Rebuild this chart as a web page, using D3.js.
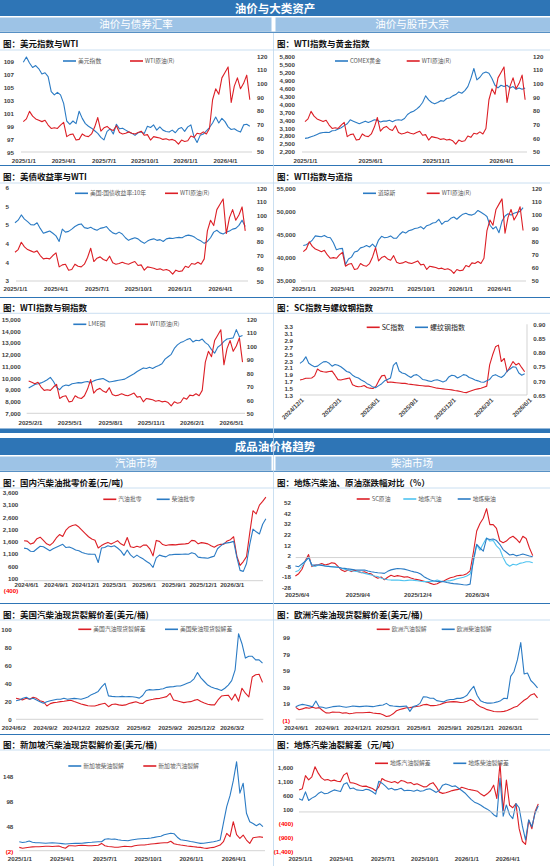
<!DOCTYPE html>
<html lang="zh">
<head>
<meta charset="utf-8">
<title>油价与大类资产</title>
<script src="https://cdn.jsdelivr.net/npm/d3@7"></script>
<style>
  body { margin: 0; background: #fff; }
  svg { display: block; font-family: "Noto Sans CJK SC", "Noto Sans", sans-serif; }
  .ptitle { font-size: 8.5px; font-weight: bold; fill: #111; }
  .tick text { font-family: "Liberation Sans", Arial, sans-serif; font-size: 6.2px; font-weight: bold; fill: #404040; }
  .leg { font-size: 5.8px; fill: #595959; }
  .hdr { fill: #fff; font-weight: bold; text-anchor: middle; }
</style>
</head>
<body>
<svg id="chart" width="550" height="866"></svg>
<script>
// ---- data ----
// weekly, from 2025-01-01
const wtiSpot = [72, 74, 79.5, 76, 74, 73, 72, 73, 69.5, 67,
  67.5, 67, 69.5, 71.5, 61, 62.5, 63, 58.5, 59, 63,
  61.5, 61, 63, 68, 75, 65, 67.5, 68.5, 66.5, 65.5,
  69, 64, 63, 63.5, 64.5, 63.5, 63, 64, 65, 62,
  62.5, 58.5, 61, 60.5, 60, 59, 59.5, 58.5, 59, 58,
  55.5, 58.5, 57.5, 58, 61.5, 60.5, 63.5, 63, 64.5, 63,
  67, 88, 96, 92, 104, 108, 112, 86, 98, 104,
  96, 100, 106, 88];
const dollarIndex = [108.8, 109.6, 108.7, 108, 108.3, 107.8, 107, 107.2, 106.6, 104.3,
  103.8, 104.2, 103.8, 102.5, 99.8, 99.3, 99.8, 99.4, 101.3, 100.2,
  99.4, 99, 98.7, 98.3, 97.9, 97.3, 96.9, 98.2, 98.6, 97.8,
  99.3, 98.6, 98.7, 98.4, 98.1, 97.9, 97.6, 98.0, 98.1, 97.9,
  99.0, 98.8, 99.2, 98.4, 98.9, 98.4, 98.2, 98.1, 98.4, 98,
  98.6, 98.8, 98.2, 98.9, 99.2, 97.4, 96.5, 97.6, 97.8, 98.3,
  98.8, 99.5, 100.4, 99.5, 100.2, 99.7, 98.9, 98.5, 98.6, 98.3,
  98.1, 99.2, 99.3, 99.0];
const comexGold = [2700, 2720, 2760, 2800, 2850, 2900, 2920, 2930, 2920, 2990,
  3000, 3050, 3100, 3180, 3250, 3400, 3350, 3300, 3250, 3300,
  3350, 3300, 3350, 3400, 3380, 3320, 3350, 3350, 3380, 3330,
  3380, 3400, 3380, 3450, 3600, 3680, 3720, 3800, 3900, 4050,
  4300, 4150, 4050, 4000, 4050, 4120, 4100, 4200, 4220, 4300,
  4350, 4450, 4400, 4500, 4650, 4950, 5330, 4900, 5000, 5150,
  5200, 5150, 4950, 4700, 4600, 4700, 4650, 4700, 4600, 4650,
  4550, 4600, 4550, 4600];
const ust10y = [4.55, 4.62, 4.76, 4.65, 4.58, 4.5, 4.49, 4.55, 4.4, 4.27,
  4.3, 4.33, 4.27, 4.2, 4.05, 4.38, 4.3, 4.32, 4.38, 4.45,
  4.5, 4.52, 4.42, 4.4, 4.43, 4.38, 4.35, 4.4, 4.42, 4.45,
  4.35, 4.28, 4.25, 4.3, 4.25, 4.15, 4.08, 4.12, 4.15, 4.12,
  4.05, 4.0, 4.06, 4.1, 4.12, 4.08, 4.1, 4.05, 4.12, 4.14,
  4.13, 4.15, 4.16, 4.15, 4.2, 4.22, 4.2, 4.16, 4.1, 4.06,
  4.0, 4.05, 4.15, 4.3, 4.35, 4.28, 4.25, 4.3, 4.33, 4.38,
  4.4, 4.48, 4.62, 4.45];
const dowJones = [42600, 42800, 43200, 43800, 44700, 44600, 44500, 44800, 44400, 44300,
  43200, 41700, 41900, 42000, 38500, 39700, 40100, 41200, 41400, 42100,
  42300, 42600, 42300, 42900, 42200, 43800, 44600, 44300, 44400, 44700,
  44200, 44200, 45000, 45600, 45300, 45800, 46000, 46300, 46400, 46700,
  46200, 46900, 47100, 47500, 47600, 48300, 47200, 47800, 47900, 48500,
  48800, 48300, 48900, 49400, 49600, 49300, 49200, 49500, 50200, 49800,
  49400, 48900, 47000, 46200, 46700, 45400, 47900, 49000, 49500, 49200,
  49600, 49800, 50000, 50800];
// weekly, from 2025-01-29
const lmeCopper = [9150, 9300, 9450, 9500, 9580, 9700, 9850, 10050, 9700, 9200,
  9000, 9300, 9400, 9350, 9500, 9550, 9600, 9580, 9650, 9700,
  9600, 9750, 9850, 9900, 9950, 9800, 9650, 9700, 9750, 9800,
  9850, 9900, 10050, 10200, 10350, 10550, 10700, 10850, 10800, 10900,
  10800, 10950, 11050, 11200, 11600, 11800, 12000, 12500, 12800, 13000,
  13100, 13250, 13350, 13050, 13200, 13150, 13300, 13000, 12800, 12400,
  12100, 12600, 12800, 13100, 13300, 13350, 13400, 14100, 13500, 13600];
// weekly, from 2024-12-01
const scIndex = [1.74, 1.76, 1.79, 1.79, 1.8, 1.86, 2.06, 2.0, 1.98, 1.97,
  1.99, 2.0, 1.88, 1.75, 1.74, 1.76, 1.78, 1.8, 1.6, 1.56,
  1.54, 1.55, 1.58, 1.52, 1.5, 1.49, 1.55, 1.72, 1.86, 1.88,
  1.67, 1.68, 1.67, 1.66, 1.65, 1.64, 1.64, 1.62, 1.61, 1.6,
  1.59, 1.58, 1.57, 1.56, 1.56, 1.54, 1.52, 1.5, 1.49, 1.48,
  1.47, 1.46, 1.45, 1.43, 1.42, 1.4, 1.38, 1.37, 1.4, 1.43,
  1.46, 1.48, 1.5, 1.53, 1.56, 2.18, 2.47, 2.71, 2.76, 2.28,
  2.37, 1.98, 2.13, 2.28, 2.18, 2.23, 2.1, 1.98];
const rebarIndex = [0.762, 0.77, 0.785, 0.762, 0.755, 0.75, 0.752, 0.76, 0.767, 0.768,
  0.762, 0.752, 0.758, 0.755, 0.75, 0.742, 0.733, 0.73, 0.72, 0.714,
  0.71, 0.703, 0.698, 0.69, 0.685, 0.678, 0.676, 0.683, 0.69, 0.7,
  0.705, 0.71, 0.755, 0.765, 0.735, 0.728, 0.725, 0.718, 0.712, 0.72,
  0.722, 0.715, 0.705, 0.703, 0.7, 0.698, 0.702, 0.704, 0.7, 0.696,
  0.7, 0.714, 0.72, 0.718, 0.71, 0.715, 0.722, 0.72, 0.712, 0.708,
  0.703, 0.7, 0.696, 0.695, 0.7, 0.705, 0.718, 0.722, 0.716, 0.712,
  0.72, 0.735, 0.742, 0.75, 0.748, 0.728, 0.72, 0.725];
// every 10 days, from 2024-05-26
const cnGasolineSpread = [1629, 1610, 1490, 1540, 1710, 1770, 1640, 1500, 1440, 1550,
  1740, 1880, 1800, 2060, 2190, 2250, 2276, 2185, 2050, 1920,
  1790, 1700, 1650, 1330, 1430, 1500, 1560, 1490, 1560, 1630,
  1500, 1430, 1760, 1380, 1353, 1400, 1360, 1450, 1450, 1300,
  1010, 1640, 1600, 1470, 1430, 1460, 1470, 1460, 1480, 1490,
  1500, 1520, 1640, 1620, 1500, 1550, 1530, 1500, 1420, 1360,
  1440, 1480, 1490, 1620, 1670, 1790, 1000, 620, 780, 980,
  1950, 2850, 2720, 3080, 3230, 3400];
const cnDieselSpread = [1326, 1300, 1200, 1190, 1300, 1400, 1380, 1300, 1220, 1300,
  1360, 1420, 1480, 1350, 1370, 1320, 1250, 1216, 1150, 1110,
  1080, 1078, 1078, 740, 1330, 1353, 1422, 1381, 1422, 1330,
  1216, 1030, 1250, 1050, 940, 1040, 950, 880, 780, 700,
  540, 930, 1040, 1000, 970, 1050, 1060, 1078, 1070, 1078,
  1080, 1078, 1140, 1100, 960, 940, 930, 913, 960, 1000,
  1300, 1420, 1519, 1540, 1560, 1600, 950, 420, 380, 700,
  1480, 2100, 1990, 1900, 2300, 2520];
// every 5 days, from 2025-06-02 (%)
const scCrudeChg = [-17.4, -15.2, -11.0, -3.0, 2.8, -8.5, -7.2, -6.8, -5.6, -7.0,
  -6.2, -4.9, -5.5, -8.6, -11.8, -13.2, -11.8, -13.2, -11.9, -13.2,
  -14.2, -13.4, -14.8, -15.4, -17.8, -19.4, -18.3, -20.9, -18.5, -16.7,
  -17.8, -17.0, -17.6, -18.4, -18.1, -19.2, -20.2, -20.8, -21.5, -22.3,
  -23.1, -24.3, -25.4, -24.6, -23.0, -22.0, -20.5, -19.0, -18.3, -17.2,
  -16.8, -16.4, -15.2, -12.5, 5.0, 25.0, 32.0, 37.0, 46.0, 31.0,
  31.0, 27.5, 15.8, 14.0, 15.5, 18.5, 20.0, 17.5, 14.0, 20.0,
  18.0, 9.0, 1.8];
const localGasolineChg = [-13.3, -12.2, -8.2, -3.6, 0.5, -7.6, -8.4, -7.0, -7.0, -8.0,
  -8.3, -8.6, -8.9, -9.2, -10.2, -11.1, -11.8, -12.4, -12.9, -13.3,
  -14.1, -14.9, -15.6, -16.5, -17.4, -17.9, -19.2, -20.2, -20.9, -21.2,
  -21.2, -21.2, -21.5, -21.8, -21.5, -21.2, -21.5, -21.8, -22.3, -22.7,
  -22.7, -22.7, -22.0, -21.2, -22.2, -22.5, -22.0, -21.7, -21.0, -20.0,
  -19.2, -18.5, -17.3, -15.5, -4.0, 12.0, 7.0, 13.0, 18.5, 15.5,
  16.0, 11.0, 8.0, 0.0, -5.8, -8.2, -6.3, -7.0, -5.5, -4.9,
  -3.9, -3.9, -4.9];
const localDieselChg = [-8.0, -8.6, -6.0, -3.5, 0.0, -7.0, -7.0, -7.0, -7.4, -8.0,
  -8.3, -8.6, -8.9, -9.2, -9.8, -10.2, -10.7, -11.1, -11.5, -11.8,
  -11.8, -11.8, -12.6, -13.3, -13.9, -14.3, -14.6, -14.9, -13.0, -11.6,
  -10.9, -10.3, -10.5, -10.9, -11.8, -12.7, -13.5, -14.0, -15.5, -18.0,
  -19.8, -21.2, -22.0, -22.4, -22.7, -22.7, -23.5, -24.1, -24.5, -24.8,
  -25.1, -25.6, -25.8, -25.0, -2.0, 12.5, 9.0, 6.0, 18.0, 17.0,
  17.5, 16.0, 12.5, 7.5, 5.0, 2.4, 3.0, 1.6, 2.4, 3.3,
  2.4, 1.4, 0.8];
// every 10 days, from 2024-06-10 ($/bbl)
const usGasolineCrack = [23.3, 22.4, 21.6, 23.3, 22.2, 24.4, 23.3, 20.7, 19.6, 14.8,
  17.4, 18.5, 19.0, 19.6, 20.0, 20.7, 21.2, 19.8, 18.5, 17.0,
  16.0, 15.0, 14.8, 14.8, 16.0, 17.0, 17.8, 14.0, 16.5, 17.0,
  16.0, 15.5, 16.0, 17.5, 18.5, 19.5, 18.0, 17.5, 20.5, 21.5,
  22.2, 23.0, 23.3, 24.3, 25.2, 28.9, 21.5, 20.7, 19.6, 18.5,
  19.2, 19.6, 21.0, 22.0, 19.8, 18.0, 16.8, 16.0, 16.0, 21.5,
  25.8, 26.5, 26.8, 21.5, 28.0, 20.0, 34.5, 29.0, 25.0, 47.0,
  49.5, 50.0, 41.0];
const usDieselCrack = [20.7, 21.4, 23.3, 24.4, 22.2, 23.3, 21.5, 19.6, 17.8, 19.6,
  20.7, 21.5, 22.2, 22.2, 23.3, 22.2, 22.8, 23.3, 22.8, 22.2,
  23.5, 24.8, 27.4, 29.0, 31.0, 36.0, 40.0, 26.0, 25.5, 25.2,
  25.0, 25.5, 25.0, 25.2, 25.0, 24.5, 23.5, 26.5, 32.0, 33.0,
  32.5, 33.0, 33.3, 34.0, 35.5, 36.0, 36.3, 37.0, 37.0, 38.5,
  40.0, 41.5, 45.0, 52.0, 46.0, 42.0, 38.0, 36.0, 34.5, 33.5,
  32.0, 34.5, 38.0, 43.0, 55.0, 95.0, 84.0, 68.0, 70.0, 70.0,
  66.0, 66.0, 62.5];
// every 10 days, from 2024-06-01 ($/bbl)
const euGasolineCrack = [14.4, 11.5, 12.5, 14.0, 13.2, 14.4, 13.3, 14.0, 10.5, 7.6,
  7.5, 8.8, 8.5, 8.5, 7.3, 7.8, 6.6, 7.2, 7.9, 7.9,
  7.9, 8.2, 8.5, 7.6, 7.0, 6.8, 5.5, 3.3, 4.0, 6.5,
  10.2, 11.8, 12.8, 13.8, 14.0, 14.8, 15.5, 16.0, 17.5, 18.0,
  16.5, 16.5, 17.0, 17.8, 19.5, 20.6, 21.0, 21.3, 21.0, 20.3,
  20.5, 21.8, 24.0, 22.0, 17.8, 15.0, 13.5, 11.6, 10.5, 9.3,
  9.0, 9.1, 9.5, 10.6, 12.5, 14.5, 15.8, 19.5, 23.0, 25.5,
  29.5, 31.0, 26.0];
const euDieselCrack = [15.2, 17.0, 18.0, 17.2, 16.2, 15.2, 22.0, 14.9, 14.4, 13.2,
  14.2, 15.2, 15.6, 16.0, 15.2, 14.4, 15.2, 16.0, 15.6, 15.2,
  15.6, 16.0, 15.6, 15.2, 16.0, 16.8, 17.2, 19.2, 16.5, 16.0,
  15.6, 15.2, 15.6, 16.0, 9.5, 15.5, 16.5, 19.2, 27.3, 27.0,
  25.5, 25.5, 22.5, 21.8, 21.0, 23.0, 24.0, 24.0, 25.3, 25.3,
  26.5, 29.0, 35.0, 40.0, 29.0, 22.5, 20.5, 19.5, 19.5, 20.0,
  21.0, 22.5, 25.5, 25.0, 52.0, 58.0, 72.0, 93.0, 55.0, 56.0,
  47.0, 43.0, 38.0];
// weekly, from 2025-01-01 ($/bbl)
const sgDieselCrack = [18.0, 16.5, 17.5, 19.5, 17.0, 16.0, 16.0, 15.5, 14.8, 15.5,
  16.0, 15.5, 14.8, 14.2, 13.5, 14.0, 14.5, 14.6, 14.6, 15.0,
  15.6, 16.3, 16.8, 17.5, 18.0, 18.0, 23.0, 24.0, 23.0, 23.5,
  22.0, 21.0, 20.5, 20.0, 21.5, 22.5, 23.5, 24.0, 24.3, 24.6,
  25.5, 26.6, 28.0, 29.0, 31.8, 33.5, 35.0, 34.0, 27.0, 22.0,
  21.0, 20.0, 18.5, 17.3, 16.0, 14.6, 15.0, 16.0, 17.0, 18.0,
  19.5, 21.3, 55.0, 88.0, 110.0, 140.0, 178.0, 115.0, 135.0, 75.0,
  58.0, 54.5, 50.0, 54.0, 48.0];
const sgGasolineCrack = [6.6, 5.0, 6.0, 7.0, 7.6, 8.0, 8.0, 8.5, 9.0, 8.8,
  8.3, 8.8, 9.2, 7.0, 5.0, 10.0, 10.0, 9.5, 10.5, 11.0,
  10.5, 9.8, 10.0, 10.5, 10.8, 14.6, 10.0, 8.5, 7.8, 7.0,
  6.8, 8.0, 9.0, 8.5, 8.0, 10.0, 11.0, 11.3, 11.5, 12.3,
  13.3, 14.0, 14.6, 15.3, 16.0, 16.0, 19.0, 14.0, 12.5, 11.3,
  10.5, 9.3, 8.6, 8.0, 7.2, 6.6, 5.5, 4.6, 5.8, 6.6,
  9.0, 11.3, 18.0, 34.6, 28.0, 58.0, 32.0, 24.6, 31.3, 21.3,
  14.6, 26.0, 27.0, 28.0, 26.6];
// weekly, from 2024-12-30 (元/吨)
const localGasolineCrack = [790, 830, 1300, 1150, 1260, 1620, 1390, 1220, 1140, 1160,
  1110, 1140, 1100, 1088, 1320, 1400, 1050, 1040, 1000, 950,
  915, 925, 880, 840, 760, 900, 1200, 1124, 1088, 1055,
  1088, 1030, 1130, 1100, 1040, 1052, 980, 1010, 960, 900,
  905, 1000, 1050, 900, 710, 665, 685, 725, 765, 790,
  810, 886, 850, 814, 790, 770, 740, 640, 570, 650,
  760, 960, 480, 1743, 50, 1147, 240, 150, 300, -600,
  -1050, -1160, -300, -600, 17, 290];
const localDieselCrack = [469, 420, 720, 410, 495, 552, 660, 720, 650, 670,
  730, 790, 760, 730, 990, 1050, 830, 860, 790, 780,
  770, 814, 790, 725, 640, 1100, 1030, 933, 814, 850,
  790, 810, 850, 760, 780, 767, 740, 790, 740, 760,
  810, 830, 770, 700, 780, 960, 1005, 965, 910, 933,
  850, 767, 680, 560, 440, 350, 300, 240, 160, 100,
  20, -100, -170, 1207, -150, 250, -100, -240, 300, 150,
  -500, -1000, -281, -530, -40, 220];

// tick labels
const ticksDxy = [95, 97, 99, 101, 103, 105, 107, 109];
const ticksWti = [50, 60, 70, 80, 90, 100, 110, 120];
const ticksGold = [2200, 2500, 2800, 3100, 3400, 3700, 4000, 4300, 4600, 4900, 5200, 5500, 5800];
const ticksUst = [3, 3.5, 4, 4.5, 5, 5.5];
const ticksDow = [35000, 40000, 45000, 50000, 55000];
const ticksCopper = [7000, 8000, 9000, 10000, 11000, 12000, 13000, 14000, 15000];
const ticksSc = [1.3, 1.5, 1.7, 1.9, 2.1, 2.3, 2.5, 2.7, 2.9, 3.1, 3.3];
const ticksRebar = [0.65, 0.70, 0.75, 0.80, 0.85, 0.90];
const ticksCnSpread = [-400, 100, 600, 1100, 1600, 2100, 2600, 3100, 3600];
const ticksChg = [-28, -18, -8, 2, 12, 22, 32, 42, 52];
const ticksUsCrack = [0, 20, 40, 60, 80, 100];
const ticksEuCrack = [-1, 19, 39, 59, 79, 99];
const ticksSgCrack = [-2, 48, 98, 148];
const ticksLocalCrack = [-1400, -900, -400, 100, 600, 1100, 1600];
const datesQ25 = ["2025-01-01", "2025-04-01", "2025-07-01", "2025-10-01", "2026-01-01", "2026-04-01"];
const datesGold = ["2025-01-01", "2025-06-01", "2025-11-01", "2026-04-01"];
const datesCopper = ["2025-02-01", "2025-05-01", "2025-08-01", "2025-11-01", "2026-02-01", "2026-05-01"];
const datesSc = ["2024-12-01", "2025-03-01", "2025-06-01", "2025-09-01", "2025-12-01", "2026-03-01", "2026-06-01"];
const datesQ24 = ["2024-06-01", "2024-09-01", "2024-12-01", "2025-03-01", "2025-06-01", "2025-09-01", "2025-12-01", "2026-03-01"];
const datesQ24b = ["2024-06-02", "2024-09-02", "2024-12-02", "2025-03-02", "2025-06-02", "2025-09-02", "2025-12-02", "2026-03-02"];
const datesChg = ["2025-06-04", "2025-09-04", "2025-12-04", "2026-03-04"];

// ---- drawing ----
const DARK = "#2e75b6", LIGHT = "#9dc3e6";
const RED = "#dc1f26", BLUE = "#2b7bc4", SKY = "#4fc3f0";
const svg = d3.select("#chart");
const parseDay = d3.timeParse("%Y-%m-%d");
const fmtDate = d3.timeFormat("%Y/%-m/%-d");

function toPoints(start, step, values) {
  const t0 = parseDay(start);
  return values.map((v, i) => ({ d: d3.timeDay.offset(t0, i * step), v: v }));
}
const comma = d3.format(",");
const fmtInt = v => String(v);
const fmtParen = v => v < 0 ? "(" + comma(-v) + ")" : comma(v);

const wtiPts = toPoints("2025-01-01", 7, wtiSpot);
const copperStart = parseDay("2025-01-29");

const panels = [
  { title: "图：美元指数与WTI", tx: 3, ty: 44,
    x: [["2025-01-01", 23.3], ["2026-04-01", 225]], xTicks: datesQ25, xLabY: 161, base: [21, 252, 152],
    yL: { dom: [95, 109], rng: [152.3, 61], ticks: ticksDxy, fmt: fmtInt, x: 14 },
    yR: { dom: [50, 120], rng: [151.7, 56], ticks: ticksWti, fmt: fmtInt, x: 257 },
    legend: [[63, 61, "美元指数", BLUE], [130, 61, "WTI原油(R)", RED]],
    series: [[toPoints("2025-01-01", 7, dollarIndex), "L", BLUE], [wtiPts, "R", RED]] },
  { title: "图：WTI指数与黄金指数", tx: 277, ty: 44,
    x: [["2025-01-01", 305], ["2026-04-01", 501]], xTicks: datesGold, xLabY: 161, base: [302, 527, 152],
    yL: { dom: [2200, 5800], rng: [151.7, 56], ticks: ticksGold, fmt: comma, x: 295 },
    yR: { dom: [50, 120], rng: [151.7, 56], ticks: ticksWti, fmt: fmtInt, x: 533 },
    legend: [[335, 61, "COMEX黄金", BLUE], [406.7, 61, "WTI原油(R)", RED]],
    series: [[toPoints("2025-01-01", 7, comexGold), "L", BLUE], [wtiPts, "R", RED]] },
  { title: "图：美债收益率与WTI", tx: 3, ty: 177,
    x: [["2025-01-01", 15], ["2026-04-01", 220]], xTicks: datesQ25, xLabY: 289, base: [16, 248, 281],
    yL: { dom: [3, 5.5], rng: [280.7, 187.3], ticks: ticksUst, fmt: v => v.toFixed(0), x: 9 },
    yR: { dom: [50, 120], rng: [281.5, 188.3], ticks: ticksWti, fmt: fmtInt, x: 256.7 },
    legend: [[75, 193.3, "美国:国债收益率:10年", BLUE], [165, 193.3, "WTI原油(R)", RED]],
    series: [[toPoints("2025-01-01", 7, ust10y), "L", BLUE], [wtiPts, "R", RED]] },
  { title: "图：WTI指数与道指", tx: 277, ty: 177,
    x: [["2025-01-01", 303.3], ["2026-04-01", 499]], xTicks: datesQ25, xLabY: 289, base: [301, 526, 281],
    yL: { dom: [35000, 55000], rng: [280.7, 188.3], ticks: ticksDow, fmt: comma, x: 295.7 },
    yR: { dom: [50, 120], rng: [280.7, 188.3], ticks: ticksWti, fmt: fmtInt, x: 531.7 },
    legend: [[363, 193.3, "道琼斯", BLUE], [426.7, 193.3, "WTI原油(R)", RED]],
    series: [[toPoints("2025-01-01", 7, dowJones), "L", BLUE], [wtiPts, "R", RED]] },
  { title: "图：WTI指数与铜指数", tx: 3, ty: 308,
    x: [["2025-02-01", 30], ["2026-05-01", 231]], xTicks: datesCopper, xLabY: 422.7, base: [26.7, 245, 413.3],
    yL: { dom: [7000, 15000], rng: [413.3, 319], ticks: ticksCopper, fmt: comma, x: 20.7 },
    yR: { dom: [50, 120], rng: [413.3, 319], ticks: ticksWti, fmt: fmtInt, x: 246.7 },
    legend: [[73.3, 324.3, "LME铜", BLUE], [135, 324.3, "WTI原油(R)", RED]],
    series: [[toPoints("2025-01-29", 7, lmeCopper), "L", BLUE], [wtiPts.filter(p => p.d >= copperStart), "R", RED]] },
  { title: "图：SC指数与螺纹钢指数", tx: 277, ty: 308, rotate: true, rightAxisLine: true,
    x: [["2024-12-01", 300], ["2026-06-01", 528]], xTicks: datesSc, xLabY: 399, base: [300, 527, 395],
    yL: { dom: [1.3, 3.3], rng: [395, 326.7], ticks: ticksSc, fmt: d3.format(".1f"), x: 293 },
    yR: { dom: [0.65, 0.90], rng: [395, 324.3], ticks: ticksRebar, fmt: d3.format(".2f"), x: 533.3 },
    legend: [[366.7, 327.3, "SC指数", RED], [415, 327.3, "螺纹钢指数", BLUE]], bigLegend: true,
    series: [[toPoints("2024-12-01", 7, scIndex), "L", RED], [toPoints("2024-12-01", 7, rebarIndex), "R", BLUE]] },
  { title: "图：国内汽柴油批零价差(元/吨)", tx: 3, ty: 483,
    x: [["2024-06-01", 26], ["2026-03-01", 231.7]], xTicks: datesQ24, xLabY: 585, base: [24, 263, null],
    yL: { dom: [-400, 3600], rng: [590.5, 492.3], ticks: ticksCnSpread, fmt: fmtParen, x: 18.3 },
    legend: [[103.3, 499.3, "汽油批零", RED], [156.7, 499.3, "柴油批零", BLUE]],
    series: [[toPoints("2024-05-26", 10, cnGasolineSpread), "L", RED], [toPoints("2024-05-26", 10, cnDieselSpread), "L", BLUE]] },
  { title: "图：地炼汽柴油、原油涨跌幅对比（%）", tx: 277, ty: 483,
    x: [["2025-06-04", 296.7], ["2026-03-04", 476.7]], xTicks: datesChg, xLabY: 595, base: [295.7, 532.3, null],
    yL: { dom: [-28, 52], rng: [587.3, 502.3], ticks: ticksChg, fmt: fmtInt, x: 291, plainNeg: true },
    legend: [[356.7, 499, "SC原油", RED], [403.3, 499, "地炼汽油", SKY], [457.7, 499, "地炼柴油", BLUE]],
    series: [[toPoints("2025-06-02", 5, scCrudeChg), "L", RED], [toPoints("2025-06-02", 5, localGasolineChg), "L", SKY], [toPoints("2025-06-02", 5, localDieselChg), "L", BLUE]] },
  { title: "图：美国汽柴油现货裂解价差(美元/桶)", tx: 3, ty: 615,
    x: [["2024-06-02", 13.3], ["2026-03-02", 231.7]], xTicks: datesQ24b, xLabY: 727.7, base: [16, 263.3, null],
    yL: { dom: [0, 100], rng: [719.3, 629.3], ticks: ticksUsCrack, fmt: fmtInt, x: 11.7 },
    legend: [[78.3, 629.3, "美国汽油现货裂解差", RED], [165, 629.3, "美国柴油现货裂解差", BLUE]],
    series: [[toPoints("2024-06-10", 10, usGasolineCrack), "L", RED], [toPoints("2024-06-10", 10, usDieselCrack), "L", BLUE]] },
  { title: "图：欧洲汽柴油现货裂解价差(美元/桶)", tx: 277, ty: 615,
    x: [["2024-06-01", 295.7], ["2026-03-01", 510]], xTicks: datesQ24, xLabY: 727.7, base: [295.7, 538.3, null],
    yL: { dom: [-1, 99], rng: [720, 637.7], ticks: ticksEuCrack, fmt: fmtParen, x: 290 },
    legend: [[376.7, 629.3, "欧洲汽油裂解", RED], [441.7, 629.3, "欧洲柴油裂解", BLUE]],
    series: [[toPoints("2024-06-01", 10, euGasolineCrack), "L", RED], [toPoints("2024-06-01", 10, euDieselCrack), "L", BLUE]] },
  { title: "图：新加坡汽柴油现货裂解价差(美元/桶)", tx: 3, ty: 745,
    x: [["2025-01-01", 19.3], ["2026-04-01", 233.3]], xTicks: datesQ25, xLabY: 858.3, base: [19.3, 265, null],
    yL: { dom: [-2, 148], rng: [851.7, 776.7], ticks: ticksSgCrack, fmt: fmtParen, x: 13.3 },
    legend: [[68.3, 766, "新加坡柴油裂解", BLUE], [143.3, 766, "新加坡汽油裂解", RED]],
    series: [[toPoints("2025-01-01", 7, sgDieselCrack), "L", BLUE], [toPoints("2025-01-01", 7, sgGasolineCrack), "L", RED]] },
  { title: "图：地炼汽柴油裂解差（元/吨）", tx: 277, ty: 745,
    x: [["2025-01-01", 300], ["2026-04-01", 507.3]], xTicks: datesQ25, xLabY: 858.3, base: [299, 539, null],
    yL: { dom: [-1400, 1600], rng: [851, 767.3], ticks: ticksLocalCrack, fmt: fmtParen, x: 293.3 },
    legend: [[375, 763.3, "地炼汽油裂解差", RED], [453.3, 763.3, "地炼柴油裂解差", BLUE]],
    series: [[toPoints("2024-12-30", 7, localGasolineCrack), "L", RED], [toPoints("2024-12-30", 7, localDieselCrack), "L", BLUE]] }
];

// ---- frame: headers and separators ----
function hline(x1, x2, y, color, w) {
  svg.append("line").attr("x1", x1).attr("x2", x2).attr("y1", y).attr("y2", y)
    .attr("stroke", color).attr("stroke-width", w);
}
function banner(y, h, text) {
  svg.append("rect").attr("x", 0).attr("y", y).attr("width", 550).attr("height", h).attr("fill", DARK);
  svg.append("text").attr("class", "hdr").attr("x", 275).attr("y", y + h / 2 + 0.5).attr("dy", "0.36em")
    .style("font-size", "11.5px").text(text);
}
function subBanner(y, h, left, right) {
  svg.append("rect").attr("x", 0).attr("y", y).attr("width", 271.5).attr("height", h).attr("fill", LIGHT);
  svg.append("rect").attr("x", 275.5).attr("y", y).attr("width", 274.5).attr("height", h).attr("fill", LIGHT);
  svg.append("text").attr("class", "hdr").attr("x", 136).attr("y", y + h / 2).attr("dy", "0.36em")
    .style("font-size", "10.5px").style("font-weight", "normal").text(left);
  svg.append("text").attr("class", "hdr").attr("x", 412).attr("y", y + h / 2).attr("dy", "0.36em")
    .style("font-size", "10.5px").style("font-weight", "normal").text(right);
  hline(0, 550, y + h + 0.8, DARK, 1);
}
banner(0, 16, "油价与大类资产");
subBanner(17.5, 14, "油价与债券汇率", "油价与股市大宗");
svg.append("rect").attr("x", 0).attr("y", 428.5).attr("width", 550).attr("height", 4.5).attr("fill", DARK);
banner(438, 17, "成品油价格趋势");
subBanner(456.5, 14, "汽油市场", "柴油市场");
[165.5, 297.5, 603.5, 734.5].forEach(y => hline(0, 550, y, DARK, 1));
[50, 183, 313.3, 488, 620, 750].forEach(y => hline(0, 550, y, "#bdd7ee", 0.8));
svg.append("line").attr("x1", 273.5).attr("x2", 273.5).attr("y1", 33).attr("y2", 866)
  .attr("stroke", "#bdd7ee").attr("stroke-width", 0.8);

// ---- one chart panel ----
function drawPanel(p) {
  const g = svg.append("g");
  g.append("text").attr("class", "ptitle").attr("x", p.tx).attr("y", p.ty).attr("dy", "0.36em").text(p.title);

  const x = d3.scaleTime().domain(p.x.map(a => parseDay(a[0]))).range(p.x.map(a => a[1]));
  const yL = d3.scaleLinear().domain(p.yL.dom).range(p.yL.rng);
  const yR = p.yR ? d3.scaleLinear().domain(p.yR.dom).range(p.yR.rng) : null;

  // baseline (at zero where the axis crosses it)
  const by = p.base[2] != null ? p.base[2] : yL(0);
  hline(p.base[0], p.base[1], by, "#c8c8c8", 0.8);
  if (p.rightAxisLine) {
    g.append("line").attr("x1", p.base[1]).attr("x2", p.base[1]).attr("y1", p.yR.rng[1]).attr("y2", p.yR.rng[0])
      .attr("stroke", "#c8c8c8").attr("stroke-width", 0.8);
  }

  // left labels
  const axL = g.append("g").attr("transform", `translate(${p.yL.x},0)`)
    .call(d3.axisLeft(yL).tickValues(p.yL.ticks).tickSize(0).tickPadding(0).tickFormat(p.yL.fmt));
  axL.select(".domain").remove();
  axL.selectAll(".tick text").attr("dy", "0.36em")
    .style("fill", d => (d < 0 && !p.yL.plainNeg) ? "#ff0000" : null);
  if (p.yR) {
    const axR = g.append("g").attr("transform", `translate(${p.yR.x},0)`)
      .call(d3.axisRight(yR).tickValues(p.yR.ticks).tickSize(0).tickPadding(0).tickFormat(p.yR.fmt));
    axR.select(".domain").remove();
    axR.selectAll(".tick text").attr("dy", "0.36em");
  }

  // date labels
  const axX = g.append("g").attr("transform", `translate(0,${p.xLabY})`)
    .call(d3.axisBottom(x).tickValues(p.xTicks.map(parseDay)).tickSize(0).tickPadding(0).tickFormat(fmtDate));
  axX.select(".domain").remove();
  if (p.rotate) {
    axX.selectAll(".tick text").attr("y", 0).attr("dy", "0.36em")
      .attr("text-anchor", "end").attr("transform", "translate(2,0) rotate(-45)");
  } else {
    axX.selectAll(".tick text").attr("y", 0).attr("dy", "0.36em");
  }

  // series
  p.series.forEach(([pts, side, color]) => {
    const ys = side === "R" ? yR : yL;
    const line = d3.line().x(d => x(d.d)).y(d => ys(d.v));
    g.append("path").datum(pts).attr("d", line).attr("fill", "none")
      .attr("stroke", color).attr("stroke-width", 1.1).attr("stroke-linejoin", "round");
  });

  // legend
  p.legend.forEach(([lx, ly, label, color]) => {
    g.append("line").attr("x1", lx).attr("x2", lx + 13).attr("y1", ly).attr("y2", ly)
      .attr("stroke", color).attr("stroke-width", 1.6);
    g.append("text").attr("class", "leg").attr("x", lx + 15).attr("y", ly).attr("dy", "0.36em")
      .style("font-size", p.bigLegend ? "7px" : null).style("fill", p.bigLegend ? "#222" : null)
      .text(label);
  });
}

panels.forEach(drawPanel);
</script>
</body>
</html>
